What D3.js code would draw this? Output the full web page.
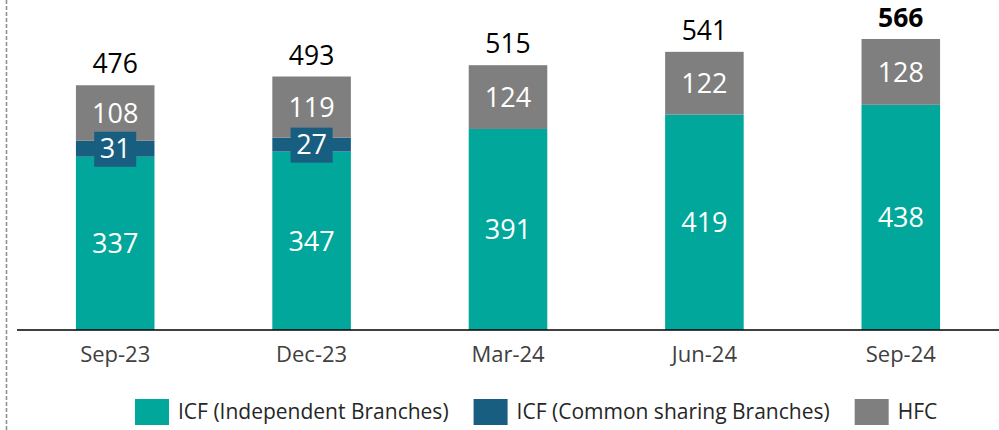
<!DOCTYPE html>
<html>
<head>
<meta charset="utf-8">
<script src="https://cdn.jsdelivr.net/npm/d3@7"></script>
<style>
  body { margin: 0; background: #fff; }
  svg { display: block; font-family: 'Open Sans', 'Noto Sans', sans-serif; }
</style>
</head>
<body>
<div id="chart"></div>
<script>
const quarters = ['Sep-23', 'Dec-23', 'Mar-24', 'Jun-24', 'Sep-24']
const icfIndependent = [337, 347, 391, 419, 438]
const icfCommon = [31, 27, 0, 0, 0]
const hfc = [108, 119, 124, 122, 128]
const seriesNames = ['ICF (Independent Branches)', 'ICF (Common sharing Branches)', 'HFC']
const seriesColors = ['#00a79a', '#185e80', '#7f7f7f']

const width = 999, height = 430
const baseY = 330

const rows = quarters.map((q, i) => ({
  quarter: q,
  indep: icfIndependent[i],
  common: icfCommon[i],
  hfc: hfc[i]
}))
const keys = ['indep', 'common', 'hfc']

const svg = d3.select('#chart').append('svg')
    .attr('width', width)
    .attr('height', height)

// dashed frame edge on the left
svg.append('line')
    .attr('x1', 6.5).attr('x2', 6.5)
    .attr('y1', 0).attr('y2', height)
    .attr('stroke', '#8c8c8c')
    .attr('stroke-width', 1.5)
    .attr('stroke-dasharray', '4,2')

const x = d3.scaleBand()
    .domain(quarters)
    .range([17, 999])
    .paddingInner(0.6)
    .paddingOuter(0.3)

const y = d3.scaleLinear()
    .domain([0, 600])
    .range([baseY, 21.5])

const stacked = d3.stack().keys(keys)(rows)

const layers = svg.append('g').selectAll('g')
    .data(stacked)
    .join('g')
    .attr('fill', (d, i) => seriesColors[i])

layers.selectAll('rect')
    .data(d => d)
    .join('rect')
    .attr('x', d => x(d.data.quarter))
    .attr('width', x.bandwidth())
    .attr('y', d => y(d[1]))
    .attr('height', d => y(d[0]) - y(d[1]))

// segment labels
stacked.forEach((layer, li) => {
  layer.forEach(d => {
    const v = d[1] - d[0]
    if (!v) return
    const cx = x(d.data.quarter) + x.bandwidth() / 2
    const cy = (y(d[0]) + y(d[1])) / 2
    const g = svg.append('g')
    if (keys[li] === 'common') {
      g.append('rect')
          .attr('x', cx - 21).attr('y', cy - 17)
          .attr('width', 42).attr('height', 35)
          .attr('fill', seriesColors[1])
    }
    g.append('text')
        .attr('x', cx)
        .attr('y', cy)
        .attr('dy', '0.36em')
        .attr('text-anchor', 'middle')
        .attr('fill', '#fff')
        .style('font-size', '27px')
        .text(v)
  })
})

// totals
svg.append('g').selectAll('text')
    .data(rows)
    .join('text')
    .attr('x', d => x(d.quarter) + x.bandwidth() / 2)
    .attr('y', d => y(d.indep + d.common + d.hfc) - 12)
    .attr('text-anchor', 'middle')
    .attr('fill', '#000')
    .style('font-size', '26.5px')
    .style('font-weight', (d, i) => i === rows.length - 1 ? 'bold' : 'normal')
    .text(d => d.indep + d.common + d.hfc)

// baseline + category labels
const axis = svg.append('g')
    .attr('transform', 'translate(0,' + baseY + ')')
    .call(d3.axisBottom(x).tickSize(0).tickPadding(16))
axis.select('.domain').attr('stroke', '#000').attr('stroke-width', 1.5)
    .attr('d', 'M17,0H999')
axis.selectAll('text')
    .style('font-size', '22px')
    .style('font-family', "'Open Sans', 'Noto Sans', sans-serif")
    .attr('fill', '#404040')

// legend
const legend = svg.append('g').attr('transform', 'translate(135,399)')
let lx = 0
seriesNames.forEach((name, i) => {
  const item = legend.append('g').attr('transform', 'translate(' + lx + ',0)')
  item.append('rect')
      .attr('width', 34).attr('height', 26)
      .attr('fill', seriesColors[i])
  const t = item.append('text')
      .attr('x', 43).attr('y', 13)
      .attr('dy', '0.35em')
      .attr('fill', '#262626')
      .style('font-size', '21px')
      .text(name)
  lx += 43 + t.node().getComputedTextLength() + 25
})
</script>
</body>
</html>
